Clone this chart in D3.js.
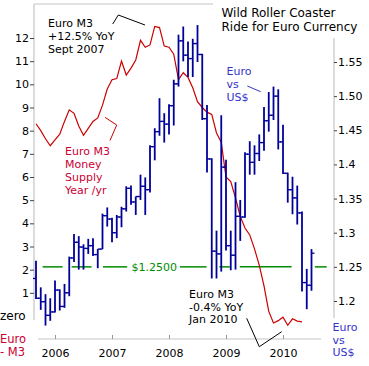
<!DOCTYPE html>
<html><head><meta charset="utf-8">
<script src="https://cdn.jsdelivr.net/npm/d3@7/dist/d3.min.js"></script>
<style>
body{margin:0;background:#fff}
svg{display:block;font-family:"DejaVu Sans",Verdana,sans-serif}
</style>
</head><body><svg width="369" height="366"></svg>
<script>
// Monthly bars, Sep 2005 .. Jul 2010 (month index 0..58)
const euroOpen = [1.2330,1.2040,1.1990,1.1790,
 1.1840,1.2160,1.1920,1.2120,1.2630,1.2860,1.2790,1.2770,1.2810,1.2680,1.2760,1.3250,
 1.3200,1.3000,1.3230,1.3350,1.3650,1.3450,1.3530,1.3680,1.3630,1.4260,1.4480,1.4630,
 1.4590,1.4860,1.5180,1.5810,1.5600,1.5550,1.5770,1.5610,1.4670,1.4080,1.2730,1.2690,
 1.3960,1.2810,1.2670,1.3240,1.3230,1.4150,1.4030,1.4160,1.4320,1.4640,1.4720,1.5000,
 1.4330,1.3870,1.3630,1.3510,1.3290,1.2270,1.2230];
const euroHigh = [1.2590,1.2200,1.2100,1.2040,
 1.2300,1.2170,1.2250,1.2650,1.2980,1.2950,1.2830,1.2910,1.2920,1.2760,1.3280,1.3370,
 1.3220,1.3260,1.3380,1.3680,1.3690,1.3530,1.3850,1.3810,1.4280,1.4530,1.4970,1.4750,
 1.4880,1.5240,1.5900,1.6020,1.5800,1.5840,1.6040,1.5620,1.4870,1.4090,1.3030,1.4720,
 1.4070,1.3030,1.3740,1.3480,1.4180,1.4340,1.4280,1.4440,1.4840,1.5060,1.5140,1.5100,
 1.4580,1.3880,1.3820,1.3690,1.3310,1.2470,1.2760];
const euroLow = [1.2030,1.1870,1.1640,1.1710,
 1.1830,1.1860,1.1900,1.2070,1.2570,1.2460,1.2460,1.2690,1.2660,1.2480,1.2760,1.3090,
 1.2860,1.2920,1.3080,1.3310,1.3410,1.3260,1.3480,1.3260,1.3590,1.4060,1.4420,1.4320,
 1.4440,1.4570,1.5140,1.5510,1.5280,1.5280,1.5500,1.4650,1.3880,1.2330,1.2330,1.2430,
 1.2740,1.2450,1.2460,1.2880,1.3220,1.3850,1.3850,1.4050,1.4200,1.4480,1.4650,1.4220,
 1.3860,1.3440,1.3270,1.3120,1.2140,1.1880,1.2150];
const euroClose = [1.2040,1.1990,1.1790,1.1840,
 1.2160,1.1920,1.2120,1.2630,1.2860,1.2790,1.2770,1.2810,1.2680,1.2760,1.3250,1.3200,
 1.3000,1.3230,1.3350,1.3650,1.3450,1.3530,1.3680,1.3630,1.4260,1.4480,1.4630,1.4590,
 1.4860,1.5180,1.5810,1.5600,1.5550,1.5770,1.5610,1.4670,1.4080,1.2730,1.2690,1.3960,
 1.2810,1.2670,1.3240,1.3230,1.4150,1.4030,1.4160,1.4320,1.4640,1.4720,1.5000,1.4330,
 1.3870,1.3630,1.3510,1.3290,1.2270,1.2230,1.2700];
// Euro M3 growth, % y/y, Sep 2005 .. May 2010
const m3Growth = [8.3,8.0,7.65,7.35,
 7.6,7.85,8.4,8.9,8.75,8.2,7.8,8.1,8.4,8.55,9.1,9.8,
 10.2,10.25,11.0,10.4,10.7,11.05,11.9,11.6,11.7,12.5,12.45,11.65,
 11.6,11.3,10.2,10.5,10.3,9.85,9.25,9.0,8.8,8.7,7.9,7.5,
 6.0,5.8,5.1,4.3,3.8,3.5,2.9,2.2,1.3,0.2,-0.3,-0.2,
 -0.05,-0.4,-0.12,-0.22,-0.25];
const leftTicks = [1,2,3,4,5,6,7,8,9,10,11,12];
const rightTicks = [1.2,1.25,1.3,1.35,1.4,1.45,1.5,1.55];
const rightTickLabels = ["1.2","1.25","1.3","1.35","1.4","1.45","1.50","1.55"];
const yearLabels = ["2006","2007","2008","2009","2010"];
const yearTickMonths = [4,16,28,40,52];
const parityLevel = 1.25;
const parityRanges = [[1.4,5.6],[7.5,11.7],[14.1,19.2],[30.3,35.9],[38.6,40.8],[42.9,53.8],[58.7,61.2]];
const parityLabelMonth = 20.1;

const svg = d3.select("svg");
const x = d3.scaleLinear().domain([0,58]).range([36,311.5]);
const yL = d3.scaleLinear().domain([0,12]).range([316,38]);
const yR = d3.scaleLinear().domain([1.2,1.55]).range([301,62]);

const gray = "#c4c4c4";
// frame
[[34,4,34,320],[34,4,213,4],[334,38,334,318],[38,339,321,339]].forEach(d=>{
  svg.append("line").attr("x1",d[0]).attr("y1",d[1]).attr("x2",d[2]).attr("y2",d[3])
    .attr("stroke",gray).attr("stroke-width",1.2);
});

// left axis
const gl = svg.append("g").attr("transform","translate(34,0)")
  .call(d3.axisLeft(yL).tickValues(leftTicks).tickSize(4).tickPadding(1));
gl.select(".domain").remove();
gl.selectAll(".tick line").attr("stroke","#444");
gl.selectAll("text").attr("font-size",11).attr("font-family","DejaVu Sans").attr("fill","#000");

// right axis
const gr = svg.append("g").attr("transform","translate(334,0)")
  .call(d3.axisRight(yR).tickValues(rightTicks).tickFormat((d,i)=>rightTickLabels[i]).tickSize(3).tickPadding(1));
gr.select(".domain").remove();
gr.selectAll(".tick line").attr("stroke","#444");
gr.selectAll("text").attr("font-size",11).attr("font-family","DejaVu Sans").attr("fill","#000");

// bottom axis
const gb = svg.append("g").attr("transform","translate(0,339)")
  .call(d3.axisBottom(x).tickValues(yearTickMonths).tickFormat((d,i)=>yearLabels[i]).tickSizeInner(-4).tickSizeOuter(0).tickPadding(10));
gb.select(".domain").remove();
gb.selectAll(".tick line").attr("stroke","#999");
gb.selectAll("text").attr("font-size",11).attr("font-family","DejaVu Sans").attr("fill","#000");

// $1.25 reference line
const green = "#008c00";
svg.append("g").selectAll("line").data(parityRanges).join("line")
  .attr("x1",d=>x(d[0])).attr("x2",d=>x(d[1]))
  .attr("y1",yR(parityLevel)).attr("y2",yR(parityLevel))
  .attr("stroke",green).attr("stroke-width",1.5);
svg.append("text").attr("x",x(parityLabelMonth)).attr("y",yR(parityLevel)+4.5)
  .attr("font-size",11).attr("fill",green).text("$1.2500");

// M3 line
svg.append("path").datum(m3Growth)
  .attr("d",d3.line().x((d,i)=>x(i)).y(d=>yL(d)))
  .attr("fill","none").attr("stroke","#cc0000").attr("stroke-width",1.2);

// OHLC bars
const blue = "#00009a";
const bars = svg.append("g");
euroOpen.forEach((o,i)=>{
  bars.append("line").attr("x1",x(i)).attr("x2",x(i)).attr("y1",yR(euroHigh[i])).attr("y2",yR(euroLow[i]))
    .attr("stroke",blue).attr("stroke-width",1.8);
  bars.append("line").attr("x1",x(i)-3).attr("x2",x(i)).attr("y1",yR(o)).attr("y2",yR(o))
    .attr("stroke",blue).attr("stroke-width",1.3);
  bars.append("line").attr("x1",x(i)).attr("x2",x(i)+3).attr("y1",yR(euroClose[i])).attr("y2",yR(euroClose[i]))
    .attr("stroke",blue).attr("stroke-width",1.3);
});

// text annotations
function block(lines, x0, y0, color, size, lh){
  const t = svg.append("text").attr("font-size",size).attr("fill",color);
  lines.forEach((s,i)=>t.append("tspan").attr("x",x0).attr("y",y0+i*lh).text(s));
}
block(["Wild Roller Coaster","Ride for Euro Currency"],221.5,17.3,"#000",12,13.4);
block(["Euro M3","+12.5% YoY","Sept 2007"],48,27.3,"#000",11,13);
block(["Euro M3","Money","Supply","Year /yr"],65,155,"#cc0033",11,13);
block(["Euro","vs","US$"],226.5,75,"#3333cc",11,13);
block(["Euro M3","-0.4% YoY","Jan 2010"],189,298.3,"#000",11,12.5);
block(["Euro","vs","US$"],332.5,331,"#3333cc",11,12.6);
block(["Euro","- M3"],0,343,"#cc0033",11.5,13);
block(["zero"],0,320,"#000",12,13);

// leader lines
const leader = d3.line();
[[[[112.7,24],[118.3,15],[145,25]],"#000"],
 [[[246.7,318.3],[259.3,346.7],[281.7,331.7]],"#000"],
 [[[105,117.3],[116.7,125],[110,140.5]],"#cc0000"],
 [[[247.3,86],[260.7,91.7]],"#3333cc"]].forEach(([pts,c])=>{
  svg.append("path").attr("d",leader(pts)).attr("fill","none").attr("stroke",c).attr("stroke-width",1);
});
</script>
</body></html>
